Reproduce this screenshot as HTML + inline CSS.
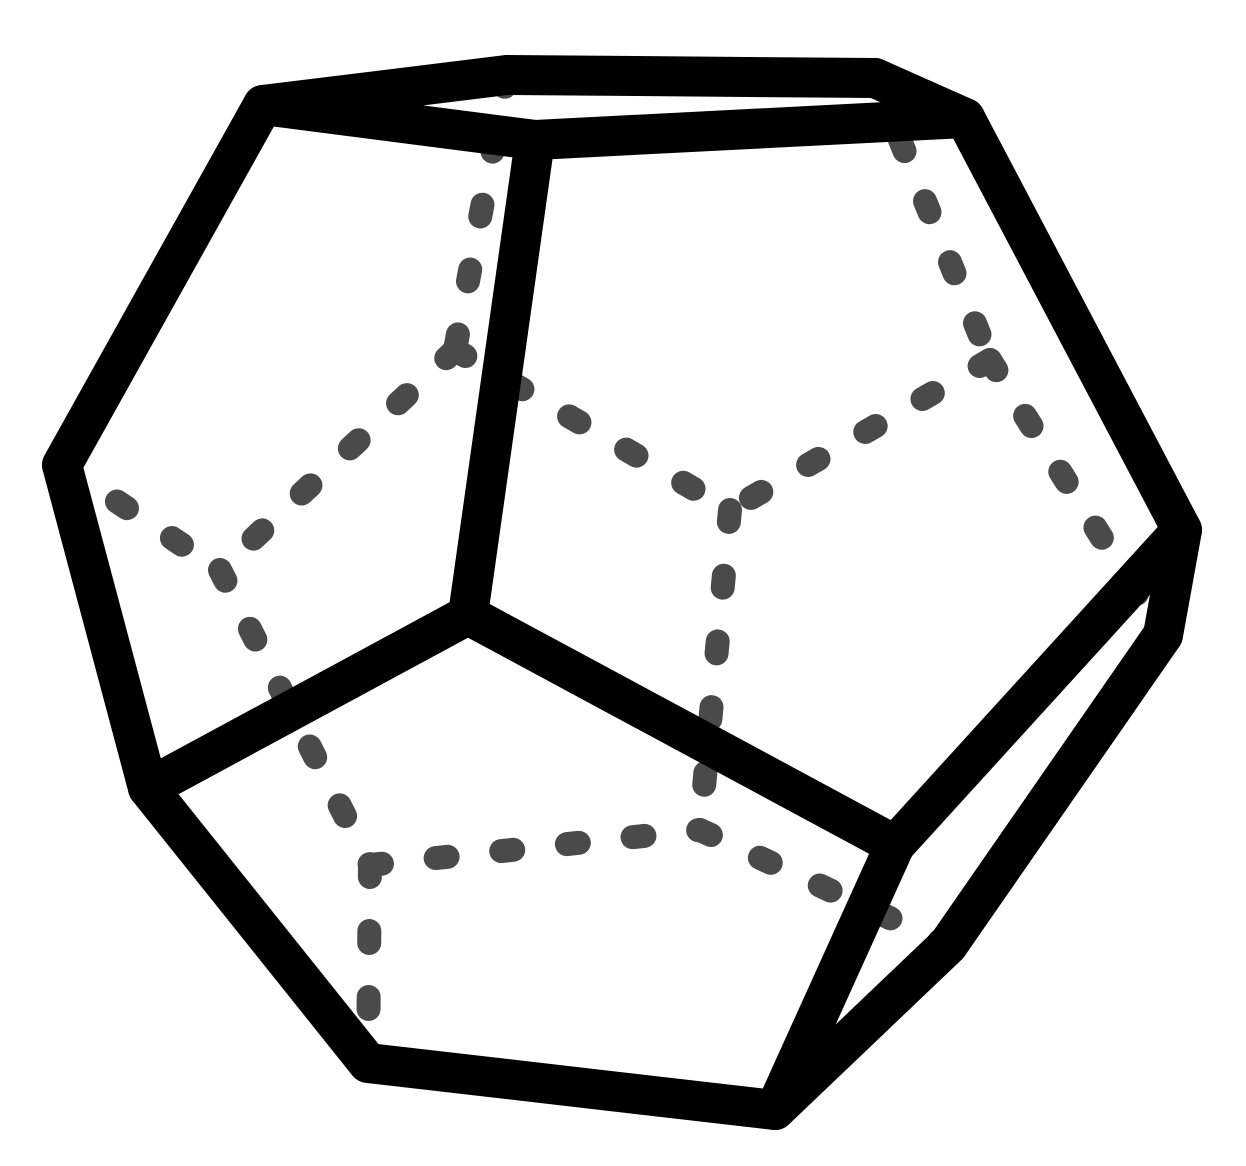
<!DOCTYPE html>
<html>
<head>
<meta charset="utf-8">
<style>
  html,body{margin:0;padding:0;background:#fff;}
  svg{display:block;}
</style>
</head>
<body>
<svg id="chart" width="1246" height="1166" viewBox="0 0 1246 1166" xmlns="http://www.w3.org/2000/svg">
  <g id="hidden"></g>
  <g id="visible"></g>
</svg>
<script>
const vertexNames = ["A","B","C","D","E","F","G","H","I","J","K","L","M","N","P1","P2","P3","P4","P5","Q","C2"];
const vertexX = [263,507,875,965,535,62,468,148,1182,1163,368,775,895,948,455,730,220,370,700,990,900];
const vertexY = [105,75,78,118,140,465,615,788,530,635,1063,1110,845,945,350,510,570,865,830,360,140];
const solidEdges = [["A","B"],["B","C"],["C","D"],["A","E"],["E","D"],["A","F"],["F","H"],["H","K"],["K","L"],["L","M"],["M","I"],["I","D"],["E","G"],["G","H"],["G","M"],["I","J"],["J","N"],["N","L"]];
const hiddenEdges = [["B","P1"],["P1","P2"],["P1","P3"],["F","P3"],["P3","P4"],["P4","K"],["P4","P5"],["P2","P5"],["P5","N"],["Q","P2"],["C2","Q"],["Q","J"]];

const ns = "http://www.w3.org/2000/svg";
function pt(n){ const i = vertexNames.indexOf(n); return [vertexX[i], vertexY[i]]; }
const hg = document.getElementById("hidden");
hiddenEdges.forEach(function(e){
  const a = pt(e[0]), b = pt(e[1]);
  const l = document.createElementNS(ns, "line");
  l.setAttribute("x1", a[0]); l.setAttribute("y1", a[1]);
  l.setAttribute("x2", b[0]); l.setAttribute("y2", b[1]);
  l.setAttribute("stroke", "#4a4a4a");
  l.setAttribute("stroke-width", "24");
  l.setAttribute("stroke-linecap", "round");
  l.setAttribute("stroke-dasharray", "12 54");
  
  
  hg.appendChild(l);
});
const vg = document.getElementById("visible");
solidEdges.forEach(function(e){
  const a = pt(e[0]), b = pt(e[1]);
  const l = document.createElementNS(ns, "line");
  l.setAttribute("x1", a[0]); l.setAttribute("y1", a[1]);
  l.setAttribute("x2", b[0]); l.setAttribute("y2", b[1]);
  l.setAttribute("stroke", "#000");
  l.setAttribute("stroke-width", "40");
  l.setAttribute("stroke-linecap", "round");
  
  
  vg.appendChild(l);
});
</script>
</body>
</html>
